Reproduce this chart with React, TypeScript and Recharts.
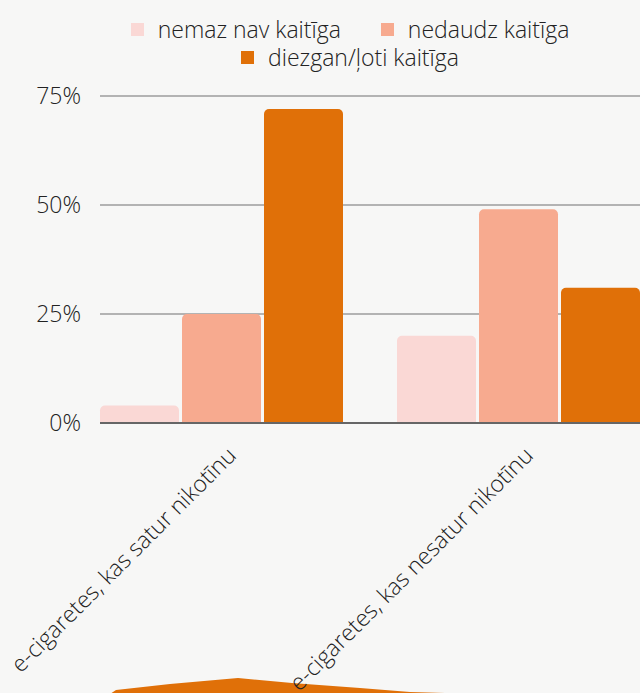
import { BarChart, Bar, XAxis, YAxis, CartesianGrid, Legend } from 'recharts'

const categories = ['e-cigaretes, kas satur nikotīnu', 'e-cigaretes, kas nesatur nikotīnu']
const seriesNames = ['nemaz nav kaitīga', 'nedaudz kaitīga', 'diezgan/ļoti kaitīga']
const nemaz = [4, 20]
const nedaudz = [25, 49]
const diezgan = [72, 31]
const yTicks = [0, 25, 50, 75]

const colors = ['#fad8d5', '#f7aa8f', '#e07008']
const FONT = '"Open Sans", sans-serif'

const data = categories.map((name, i) => ({
  name,
  nemaz: nemaz[i],
  nedaudz: nedaudz[i],
  diezgan: diezgan[i],
}))

function LegendContent() {
  return (
    <div
      style={{
        width: 540,
        marginLeft: 80,
        display: 'flex',
        flexWrap: 'wrap',
        justifyContent: 'center',
        fontFamily: FONT,
        fontWeight: 300,
        fontSize: 23,
        lineHeight: '28px',
        color: '#222',
      }}
    >
      {seriesNames.map((s, i) => (
        <div key={s} style={{ display: 'flex', alignItems: 'center', margin: '0 20px' }}>
          <span style={{ width: 13, height: 13, background: colors[i], marginRight: 14, display: 'inline-block' }} />
          <span>{s}</span>
        </div>
      ))}
    </div>
  )
}

function XTick(props: any) {
  const { x, y, payload } = props
  return (
    <g transform={`translate(${x + 16},${y + 26})`}>
      <text
        transform="rotate(-45)"
        textAnchor="end"
        fontFamily={FONT}
        fontWeight={300}
        fontSize={23}
        fill="#222"
      >
        {payload.value}
      </text>
    </g>
  )
}

export default function App() {
  return (
    <div style={{ position: 'absolute', left: 0, top: 0, width: 640, height: 693, background: '#f7f7f6', overflow: 'hidden' }}>
      {/* decorative brush stroke */}
      <svg width={640} height={693} style={{ position: 'absolute', left: 0, top: 0 }}>
        <polygon
          points="110,694 116,690 170,684 238,678 292,683 360,688 410,692 480,694"
          fill="#e07008"
        />
      </svg>
      <div style={{ position: 'absolute', left: 0, top: 0 }}>
        <BarChart
          width={640}
          height={693}
          data={data}
          margin={{ top: 36, right: 0, left: 0, bottom: 0 }}
          barGap={3}
          barCategoryGap={27}
        >
          <CartesianGrid vertical={false} stroke="#b3b3b3" strokeWidth={2} />
          <Legend
            verticalAlign="top"
            content={<LegendContent />}
            wrapperStyle={{ top: 15, left: 0, width: 640, height: 60 }}
          />
          <XAxis
            dataKey="name"
            interval={0}
            tickLine={false}
            axisLine={{ stroke: '#666', strokeWidth: 2 }}
            padding={{ left: -27, right: -27 }}
            tick={<XTick />}
            height={270}
          />
          <YAxis
            width={100}
            domain={[0, 75]}
            ticks={yTicks}
            tickFormatter={(v) => `${v}%`}
            tickLine={false}
            axisLine={false}
            tickMargin={13}
            tick={{ fill: '#222', fontSize: 23, fontFamily: FONT, fontWeight: 300 }}
          />
          <Bar dataKey="nemaz" name={seriesNames[0]} fill={colors[0]} radius={[5, 5, 0, 0]} isAnimationActive={false} />
          <Bar dataKey="nedaudz" name={seriesNames[1]} fill={colors[1]} radius={[5, 5, 0, 0]} isAnimationActive={false} />
          <Bar dataKey="diezgan" name={seriesNames[2]} fill={colors[2]} radius={[5, 5, 0, 0]} isAnimationActive={false} />
        </BarChart>
      </div>
    </div>
  )
}
